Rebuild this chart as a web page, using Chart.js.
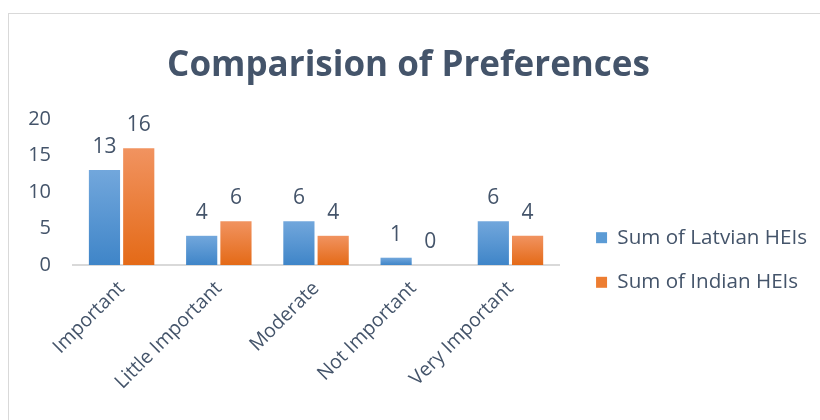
<!DOCTYPE html>
<html>
<head>
<meta charset="utf-8">
<script src="https://cdn.jsdelivr.net/npm/chart.js@4.4.0/dist/chart.umd.min.js"></script>
<style>
    html, body { margin: 0; padding: 0; background: #ffffff; overflow: hidden; }
    #wrap { position: absolute; left: 0; top: 0; width: 820px; height: 420px; }
    #frame { position: absolute; left: 8px; top: 13px; width: 900px; height: 500px; border: 1px solid #D9D9D9; pointer-events: none; }
</style>
</head>
<body>
<div id="frame"></div>
<div id="wrap"><canvas id="prefChart" width="820" height="420"></canvas></div>
<script>
// Chart data
const categories = ['Important', 'Little Important', 'Moderate', 'Not Important', 'Very Important'];
const latvianValues = [13, 4, 6, 1, 6];
const indianValues = [16, 6, 4, 0, 4];
const yTicks = [0, 5, 10, 15, 20];

const TEXT_COLOR = '#44546A';
const FONT = '"Open Sans", "Noto Sans", sans-serif';

// per-bar vertical gradient, lighter at the top
function barGradient(ctx, topColor, bottomColor) {
    const chart = ctx.chart;
    const area = chart.chartArea;
    if (!area || ctx.type !== 'data') return bottomColor;
    const y = chart.scales.y;
    const top = y.getPixelForValue(ctx.parsed.y);
    const bottom = y.getPixelForValue(0);
    if (bottom - top < 1) return bottomColor;
    const g = chart.ctx.createLinearGradient(0, top, 0, bottom);
    g.addColorStop(0, topColor);
    g.addColorStop(1, bottomColor);
    return g;
}

// values printed above each bar
const valueLabels = {
    id: 'valueLabels',
    afterDatasetsDraw(chart) {
        const ctx = chart.ctx;
        ctx.save();
        ctx.font = '21px ' + FONT;
        ctx.fillStyle = TEXT_COLOR;
        ctx.textAlign = 'center';
        ctx.textBaseline = 'alphabetic';
        chart.data.datasets.forEach((ds, i) => {
            chart.getDatasetMeta(i).data.forEach((bar, j) => {
                ctx.fillText(String(ds.data[j]), bar.x, bar.y - 17);
            });
        });
        ctx.restore();
    }
};

function drawChart() {
    new Chart(document.getElementById('prefChart').getContext('2d'), {
        type: 'bar',
        data: {
            labels: categories,
            datasets: [{
                label: 'Sum of Latvian HEIs',
                data: latvianValues,
                backgroundColor: ctx => barGradient(ctx, '#72A7DC', '#3F85C8'),
                borderWidth: 0,
                barPercentage: 0.91,
                categoryPercentage: 0.705
            }, {
                label: 'Sum of Indian HEIs',
                data: indianValues,
                backgroundColor: ctx => barGradient(ctx, '#F19360', '#E46A17'),
                borderWidth: 0,
                barPercentage: 0.91,
                categoryPercentage: 0.705
            }]
        },
        options: {
            responsive: false,
            animation: false,
            layout: {
                padding: { left: 0, right: 3, top: 0, bottom: 0 }
            },
            plugins: {
                title: {
                    display: true,
                    text: 'Comparision of Preferences',
                    color: TEXT_COLOR,
                    font: { family: FONT, size: 35, weight: 'bold' },
                    padding: { top: 45, bottom: 32 }
                },
                legend: {
                    position: 'right',
                    maxWidth: 270,
                    title: {
                        display: true,
                        text: ' ',
                        font: { size: 10 },
                        padding: { top: 0, bottom: 88 }
                    },
                    labels: {
                        color: TEXT_COLOR,
                        font: { family: FONT, size: 20.6 },
                        boxWidth: 11,
                        boxHeight: 11,
                        padding: 24,
                        generateLabels: chart => chart.data.datasets.map((ds, i) => ({
                            text: ds.label,
                            fillStyle: i === 0 ? '#5B9BD5' : '#ED7D31',
                            strokeStyle: 'transparent',
                            lineWidth: 0,
                            datasetIndex: i,
                            fontColor: TEXT_COLOR
                        }))
                    }
                },
                tooltip: { enabled: false }
            },
            scales: {
                y: {
                    min: 0,
                    max: 20,
                    afterBuildTicks: axis => { axis.ticks = yTicks.map(v => ({ value: v })); },
                    afterFit: axis => { axis.width = 73; },
                    grid: { display: false },
                    border: { display: false },
                    ticks: {
                        color: TEXT_COLOR,
                        font: { family: FONT, size: 20 },
                        padding: 14
                    }
                },
                // empty spacer between plot and legend
                gap: {
                    type: 'linear',
                    position: 'right',
                    min: 0,
                    max: 20,
                    afterFit: axis => { axis.width = 13; },
                    grid: { display: false },
                    border: { display: false },
                    ticks: { display: false }
                },
                x: {
                    afterFit: axis => { axis.height = 155; },
                    grid: { display: false },
                    border: { color: '#D9D9D9', width: 2 },
                    ticks: {
                        color: TEXT_COLOR,
                        font: { family: FONT, size: 19.5 },
                        minRotation: 45,
                        maxRotation: 45,
                        padding: 4
                    }
                }
            }
        },
        plugins: [valueLabels]
    });
}

Promise.all([
    document.fonts.load('20px "Open Sans"'),
    document.fonts.load('bold 35px "Open Sans"')
]).then(drawChart, drawChart);
</script>
</body>
</html>
